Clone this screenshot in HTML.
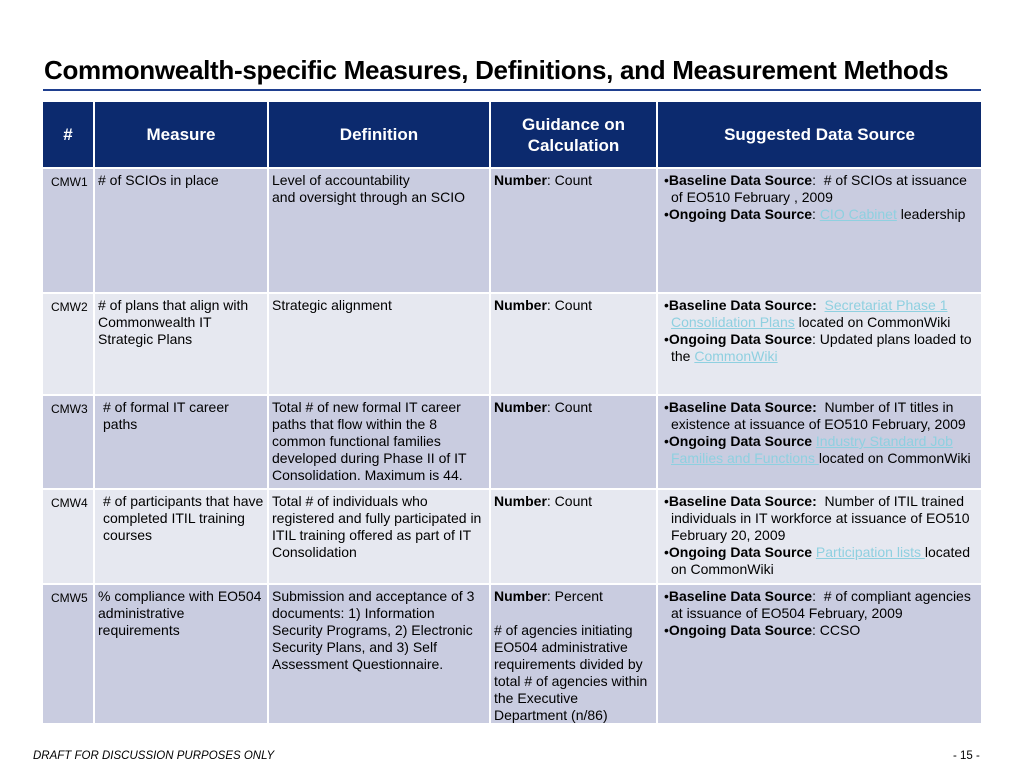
<!DOCTYPE html>
<html><head><meta charset="utf-8"><style>
body{margin:0;width:1024px;height:768px;background:#fff;font-family:"Liberation Sans",sans-serif;position:relative;overflow:hidden;color:#000}
.t{position:absolute;left:44px;top:55px;font-size:26px;font-weight:bold;letter-spacing:-0.3px;white-space:nowrap}
.rule{position:absolute;left:43px;top:89px;width:938px;height:2px;background:#1f3f8f}
.c{position:absolute;box-sizing:border-box;font-size:14px;line-height:17px;padding:3px 2px 0 3px}
.h{background:#0c2a6e;color:#fff;font-weight:bold;font-size:17px;line-height:21px;display:flex;align-items:center;justify-content:center;text-align:center;padding:0}
.d{background:#c9cce0}.l{background:#e6e8f0}
.id{font-size:12px;padding-left:8px;padding-top:5px}
a{color:#8fd0e0;text-decoration:underline}
.b{padding-left:10px;text-indent:-7px}
.foot{position:absolute;top:750px;font-size:11.5px;font-style:italic}
</style></head><body>
<div class="t">Commonwealth-specific Measures, Definitions, and Measurement Methods</div>
<div class="rule"></div>
<div>
<div class="c h" style="left:43px;top:102px;width:50px;height:65px">#</div>
<div class="c h" style="left:95px;top:102px;width:172px;height:65px">Measure</div>
<div class="c h" style="left:269px;top:102px;width:220px;height:65px">Definition</div>
<div class="c h" style="left:491px;top:102px;width:165px;height:65px">Guidance on<br>Calculation</div>
<div class="c h" style="left:658px;top:102px;width:323px;height:65px">Suggested Data Source</div>

<div class="c d id" style="left:43px;top:169px;width:50px;height:123px">CMW1</div>
<div class="c d" style="left:95px;top:169px;width:172px;height:123px"># of SCIOs in place</div>
<div class="c d" style="left:269px;top:169px;width:220px;height:123px">Level of accountability<br>and oversight through an SCIO</div>
<div class="c d" style="left:491px;top:169px;width:165px;height:123px"><b>Number</b>: Count</div>
<div class="c d" style="left:658px;top:169px;width:323px;height:123px"><div class="b">•<b>Baseline Data Source</b>:&nbsp; # of SCIOs at issuance of EO510 February , 2009</div><div class="b">•<b>Ongoing Data Source</b>: <a>CIO Cabinet</a> leadership</div></div>

<div class="c l id" style="left:43px;top:294px;width:50px;height:100px">CMW2</div>
<div class="c l" style="left:95px;top:294px;width:172px;height:100px"># of plans that align with Commonwealth IT Strategic Plans</div>
<div class="c l" style="left:269px;top:294px;width:220px;height:100px">Strategic alignment</div>
<div class="c l" style="left:491px;top:294px;width:165px;height:100px"><b>Number</b>: Count</div>
<div class="c l" style="left:658px;top:294px;width:323px;height:100px"><div class="b">•<b>Baseline Data Source:</b>&nbsp; <a>Secretariat Phase 1 Consolidation Plans</a> located on CommonWiki</div><div class="b">•<b>Ongoing Data Source</b>: Updated plans loaded to the <a>CommonWiki</a></div></div>

<div class="c d id" style="left:43px;top:396px;width:50px;height:92px">CMW3</div>
<div class="c d" style="left:95px;top:396px;width:172px;height:92px;padding-left:8px"># of formal IT career paths</div>
<div class="c d" style="left:269px;top:396px;width:220px;height:92px">Total # of new formal IT career paths that flow within the 8 common functional families developed during Phase II of IT Consolidation. Maximum is 44.</div>
<div class="c d" style="left:491px;top:396px;width:165px;height:92px"><b>Number</b>: Count</div>
<div class="c d" style="left:658px;top:396px;width:323px;height:92px"><div class="b">•<b>Baseline Data Source:</b>&nbsp; Number of IT titles in existence at issuance of EO510 February, 2009</div><div class="b">•<b>Ongoing Data Source</b> <a>Industry Standard Job Families and Functions </a>located on CommonWiki</div></div>

<div class="c l id" style="left:43px;top:490px;width:50px;height:93px">CMW4</div>
<div class="c l" style="left:95px;top:490px;width:172px;height:93px;padding-left:8px"># of participants that have completed ITIL training courses</div>
<div class="c l" style="left:269px;top:490px;width:220px;height:93px">Total # of individuals who registered and fully participated in ITIL training offered as part of IT Consolidation</div>
<div class="c l" style="left:491px;top:490px;width:165px;height:93px"><b>Number</b>: Count</div>
<div class="c l" style="left:658px;top:490px;width:323px;height:93px"><div class="b">•<b>Baseline Data Source:</b>&nbsp; Number of ITIL trained individuals in IT workforce at issuance of EO510 February 20, 2009</div><div class="b">•<b>Ongoing Data Source</b> <a>Participation lists </a>located on CommonWiki</div></div>

<div class="c d id" style="left:43px;top:585px;width:50px;height:138px">CMW5</div>
<div class="c d" style="left:95px;top:585px;width:172px;height:138px">% compliance with EO504 administrative requirements</div>
<div class="c d" style="left:269px;top:585px;width:220px;height:138px">Submission and acceptance of 3 documents: 1) Information Security Programs, 2) Electronic Security Plans, and 3) Self Assessment Questionnaire.</div>
<div class="c d" style="left:491px;top:585px;width:165px;height:138px"><b>Number</b>: Percent<br><br># of agencies initiating EO504 administrative requirements divided by total # of agencies within the Executive Department (n/86)</div>
<div class="c d" style="left:658px;top:585px;width:323px;height:138px"><div class="b">•<b>Baseline Data Source</b>:&nbsp; # of compliant agencies at issuance of EO504 February, 2009</div><div class="b">•<b>Ongoing Data Source</b>: CCSO</div></div>
</div>
<div class="foot" style="left:33px">DRAFT FOR DISCUSSION PURPOSES ONLY</div>
<div class="foot" style="left:953px;font-style:normal">- 15 -</div>
</body></html>
